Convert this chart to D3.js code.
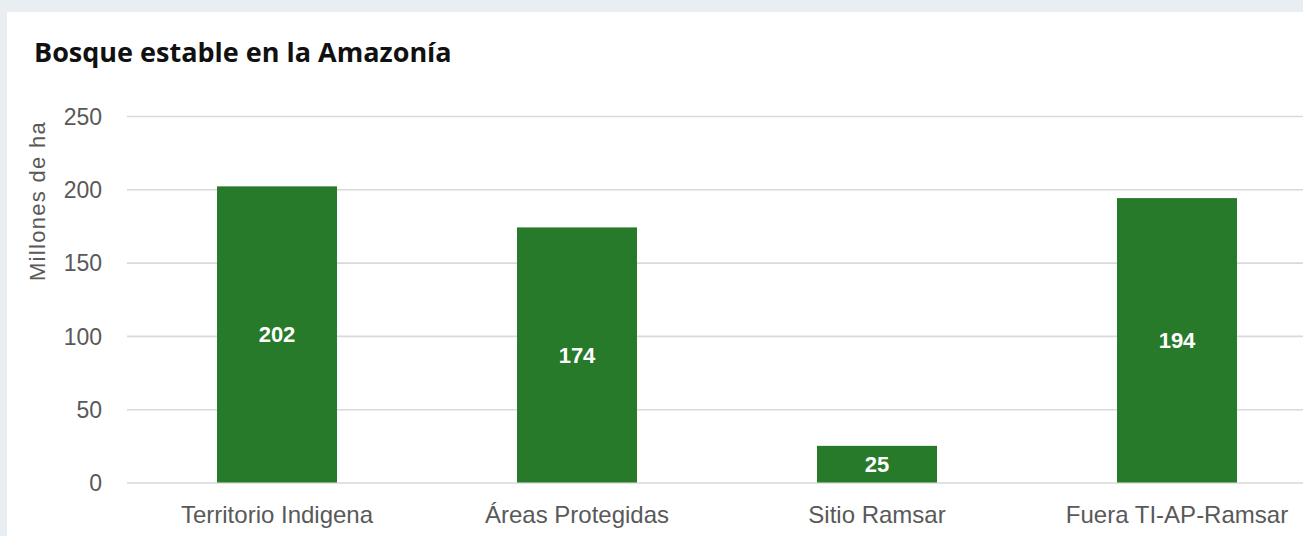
<!DOCTYPE html>
<html>
<head>
<meta charset="utf-8">
<script src="https://cdn.jsdelivr.net/npm/d3@7"></script>
<style>
  html, body { margin: 0; padding: 0; background: #e8eef1; overflow: hidden; }
  #chart { position: absolute; left: 7px; top: 12px; width: 1296px; height: 524px; background: #fff; }
  .grid line { stroke: #d9d9d9; stroke-width: 1.6; }
  .tick text { fill: #595959; font-family: "Liberation Sans", Arial, sans-serif; }
</style>
</head>
<body>
<div id="chart"></div>
<script>
const categories = ["Territorio Indigena", "Áreas Protegidas", "Sitio Ramsar", "Fuera TI-AP-Ramsar"];
const values = [202, 174, 25, 194];
const yTicks = [0, 50, 100, 150, 200, 250];

const title = "Bosque estable en la Amazonía";
const yTitle = "Millones de ha";

// card is offset by (7,12) inside the page
const W = 1296, H = 524;
const plot = { left: 120, right: 1320, top: 104, bottom: 470.5 };

const svg = d3.select("#chart").append("svg")
  .attr("width", W)
  .attr("height", H);

const x = d3.scaleBand()
  .domain(categories)
  .range([plot.left, plot.right])
  .paddingInner(0.6)
  .paddingOuter(0.3);

const y = d3.scaleLinear()
  .domain([0, 250])
  .range([plot.bottom, plot.top]);

// title
svg.append("text")
  .attr("x", 27)
  .attr("y", 50)
  .attr("font-family", "'Open Sans', sans-serif")
  .attr("font-weight", 700)
  .attr("font-size", 27)
  .attr("fill", "#111")
  .text(title);

// y axis + gridlines
const yAxis = svg.append("g")
  .attr("class", "grid")
  .attr("transform", `translate(${plot.left},0)`)
  .call(d3.axisLeft(y).tickValues(yTicks).tickSize(-(plot.right - plot.left)).tickPadding(25));
yAxis.select(".domain").remove();
yAxis.selectAll(".tick text").attr("font-size", 23).attr("dy", "0.36em");

// y axis title, sits high like the original
svg.append("text")
  .attr("transform", `translate(38,189) rotate(-90)`)
  .attr("text-anchor", "middle")
  .attr("font-family", "'Liberation Sans', Arial, sans-serif")
  .attr("font-size", 22)
  .attr("letter-spacing", 1.3)
  .attr("fill", "#595959")
  .text(yTitle);

// bars
svg.append("g")
  .selectAll("rect")
  .data(values)
  .enter()
  .append("rect")
  .attr("x", (d, i) => x(categories[i]))
  .attr("y", (d) => y(d))
  .attr("width", x.bandwidth())
  .attr("height", (d) => y(0) - y(d))
  .attr("fill", "#277a29");

// value labels in the middle of each bar
svg.append("g")
  .selectAll("text")
  .data(values)
  .enter()
  .append("text")
  .attr("x", (d, i) => x(categories[i]) + x.bandwidth() / 2)
  .attr("y", (d) => (y(d) + y(0)) / 2)
  .attr("dy", "0.36em")
  .attr("text-anchor", "middle")
  .attr("font-family", "'Liberation Sans', Arial, sans-serif")
  .attr("font-weight", 700)
  .attr("font-size", 22)
  .attr("fill", "#fff")
  .text((d) => d);

// x axis labels
const xAxis = svg.append("g")
  .attr("transform", `translate(0,${plot.bottom})`)
  .call(d3.axisBottom(x).tickSize(0).tickPadding(0));
xAxis.select(".domain").remove();
xAxis.selectAll(".tick text")
  .attr("font-size", 24)
  .attr("dy", 0)
  .attr("y", 40);
</script>
</body>
</html>
